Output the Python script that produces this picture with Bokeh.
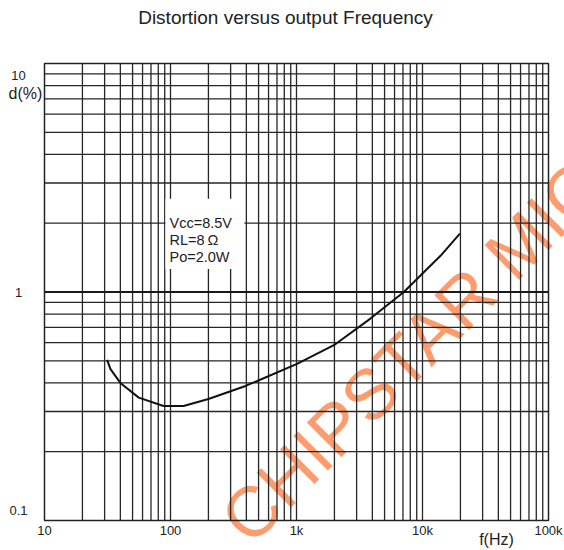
from bokeh.plotting import figure
from bokeh.models import Range1d, Label, ColumnDataSource
from bokeh.embed import file_html
from bokeh.resources import INLINE

# ---- data ----
freq_hz = [31.4, 33.4, 40, 56, 88, 127, 200, 394, 488, 1010, 1980, 3860, 7110, 9640, 13900, 19800]
distortion_pct = [0.505, 0.46, 0.40, 0.345, 0.317, 0.317, 0.34, 0.388, 0.408, 0.485, 0.585, 0.765, 1.0, 1.18, 1.44, 1.80]

x_tick_values = [10, 100, 1000, 10000, 100000]
x_tick_labels = ["10", "100", "1k", "10k", "100k"]
y_tick_values = [10, 1, 0.1]
y_tick_labels = ["10", "1", "0.1"]
conditions = ["Vcc=8.5V", "RL=8\u2009\u03a9", "Po=2.0W"]

x_min, x_max = 10, 100000
y_min, y_max = 0.1, 10
x_grid_values = [m * 10 ** e for e in range(1, 5) for m in range(1, 10)][1:]
y_grid_values = [m * 10 ** e for e in (-1, 0) for m in range(1, 10)][1:]

# ---- layout (pixels on the canvas) ----
W, H = 564, 550
FL, FR, FT, FB = 44, 548, 63, 520          # plot-area edges
px_dec_x = (FR - FL) / 4.0
px_dec_y = (FB - FT) / 2.0
xr = Range1d(10 ** (1 - FL / px_dec_x), 10 ** (1 + (W - FL) / px_dec_x))
yr = Range1d(10 ** (-1 - (H - FB) / px_dec_y), 10 ** (1 + FT / px_dec_y))

FONT = "Liberation Sans"
TXT = "#222222"
GRID = "#262626"

p = figure(width=W, height=H, x_range=xr, y_range=yr,
           x_axis_type="log", y_axis_type="log",
           x_axis_location=None, y_axis_location=None,
           output_backend="svg", toolbar_location=None,
           min_border=0)
p.outline_line_color = None
p.background_fill_color = "white"
p.border_fill_color = "white"
p.grid.visible = False

# watermark (behind everything)
p.add_layout(Label(x=100, y=0.1, x_offset=63, y_offset=-10, text="CHIPSTAR MIC",
                   angle=45, angle_units="deg",
                   text_font=FONT, text_font_size="71px", text_color="#FF9C6E",
                   text_align="left", text_baseline="alphabetic", level="image"))

# grid lines
p.segment(x0=x_grid_values, x1=x_grid_values, y0=[y_min] * len(x_grid_values),
          y1=[y_max] * len(x_grid_values), line_color=GRID, line_width=1.3)
p.segment(x0=[x_min] * len(y_grid_values), x1=[x_max] * len(y_grid_values),
          y0=y_grid_values, y1=y_grid_values, line_color=GRID, line_width=1.3)
p.segment(x0=[x_min], x1=[x_max], y0=[1], y1=[1], line_color="#1a1a1a", line_width=2)
# frame
p.quad(left=[x_min], right=[x_max], bottom=[y_min], top=[y_max],
       fill_alpha=0, line_color="#222222", line_width=1.5)

src = ColumnDataSource(dict(f=freq_hz, d=distortion_pct))
p.line("f", "d", source=src, line_color="#111111", line_width=2)

# white box behind the conditions text
p.quad(left=[91.2], right=[386], bottom=[1.26], top=[2.56],
       fill_color="white", line_alpha=0)
for i, t in enumerate(conditions):
    p.add_layout(Label(x=10, y=10, x_offset=125, y_offset=-159 - 17 * i, text=t,
                       text_font=FONT, text_font_size="14.5px", text_color=TXT,
                       text_align="left", text_baseline="alphabetic"))

# tick labels
for v, t in zip(x_tick_values, x_tick_labels):
    p.add_layout(Label(x=v, y=0.1, y_offset=-10, text=t, text_font=FONT, text_font_size="13px",
                       text_color=TXT, text_align="center", text_baseline="middle"))
y_label_offsets = [-12, 0, 10]
for v, t, off in zip(y_tick_values, y_tick_labels, y_label_offsets):
    p.add_layout(Label(x=10, y=v, x_offset=-26, y_offset=off, text=t, text_font=FONT,
                       text_font_size="13px", text_color=TXT, text_align="center",
                       text_baseline="middle"))

p.add_layout(Label(x=10, y=10, x_offset=-19, y_offset=-30, text="d(%)", text_font=FONT,
                   text_font_size="16px", text_color=TXT, text_align="center", text_baseline="middle"))
p.add_layout(Label(x=10000, y=0.1, x_offset=74, y_offset=-19, text="f(Hz)", text_font=FONT,
                   text_font_size="16px", text_color=TXT, text_align="center", text_baseline="middle"))
p.add_layout(Label(x=10, y=10, x_offset=241, y_offset=46, text="Distortion versus output Frequency",
                   text_font=FONT, text_font_size="19px", text_color=TXT,
                   text_align="center", text_baseline="middle"))

open("out.html", "w").write(file_html(p, INLINE))
